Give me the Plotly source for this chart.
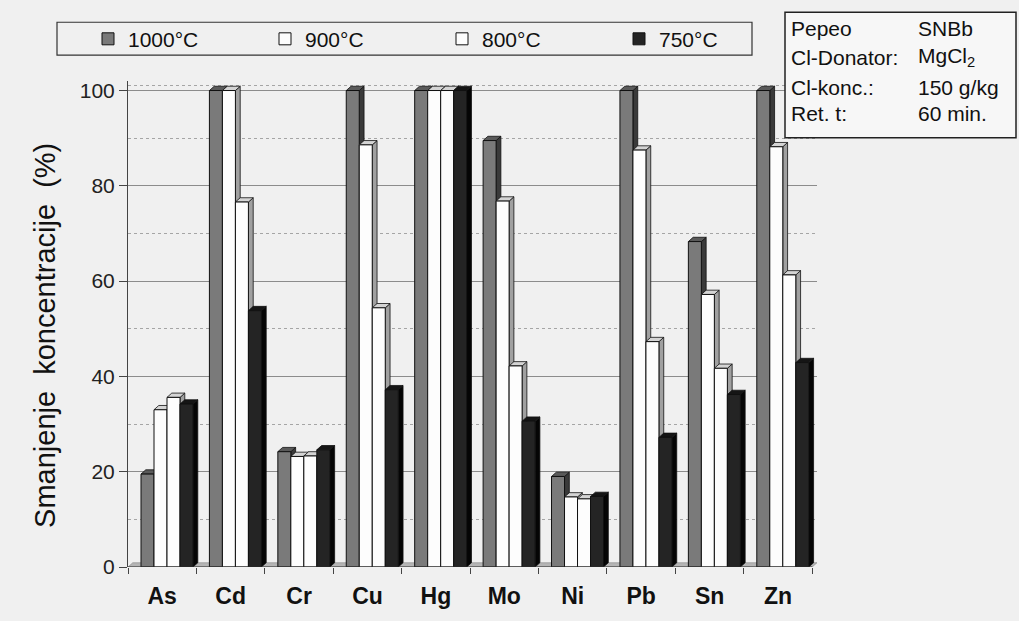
import plotly.graph_objects as go

elements = ["As", "Cd", "Cr", "Cu", "Hg", "Mo", "Ni", "Pb", "Sn", "Zn"]
series_names = ["1000°C", "900°C", "800°C", "750°C"]
v1000 = [19.5, 100, 24.2, 100, 100, 89.5, 19.0, 100, 68.3, 100]
v900 = [33.0, 100, 23.2, 88.6, 100, 76.8, 14.7, 87.5, 57.2, 88.2]
v800 = [35.6, 76.6, 23.3, 54.4, 100, 42.2, 14.3, 47.3, 41.7, 61.3]
v750 = [34.2, 53.8, 24.6, 37.2, 100, 30.6, 14.8, 27.2, 36.2, 42.9]
y_ticks = [0, 20, 40, 60, 80, 100]

series_values = [v1000, v900, v800, v750]
front_colors = ["#7a7a7a", "#fdfdfd", "#fdfdfd", "#242424"]
side_colors = ["#3a3a3a", "#a0a0a0", "#a0a0a0", "#050505"]
top_colors = ["#5a5a5a", "#d4d4d4", "#d4d4d4", "#151515"]

GROUP_W = 0.76
BAR_W = GROUP_W / 4
SHIFT = 0.07  # perspective shift of the bars relative to the category centre
DX = 0.07     # depth offset in x units
DY = 0.9      # depth offset in y units

W, H = 1019, 621
ML, MR, MT, MB = 128, 202, 81, 52
PW = W - ML - MR
PH = H - MT - MB
YMAX = 102


def px_x(p):
    return (p - ML) / PW


def px_y(p):
    return (H - MB - p) / PH


fig = go.Figure()

# floor (behind bars)
fig.add_shape(type="path",
              path=f"M -0.5,0 L 9.5,0 L {9.5 + DX},{DY} L {-0.5 + DX},{DY} Z",
              xref="x", yref="y", fillcolor="#b5b5b5", line=dict(color="#777", width=0.5),
              layer="below")

for i, (name, vals) in enumerate(zip(series_names, series_values)):
    fx, fy, sx, sy, tx, ty = [], [], [], [], [], []
    for c, v in enumerate(vals):
        x0 = c + SHIFT - GROUP_W / 2 + i * BAR_W
        x1 = x0 + BAR_W
        fx += [x0, x1, x1, x0, x0, None]
        fy += [0, 0, v, v, 0, None]
        sx += [x1, x1 + DX, x1 + DX, x1, x1, None]
        sy += [0, DY, v + DY, v, 0, None]
        tx += [x0, x0 + DX, x1 + DX, x1, x0, None]
        ty += [v, v + DY, v + DY, v, v, None]
    # side and top faces drawn first, so the next series' front covers them
    fig.add_trace(go.Scatter(x=sx, y=sy, mode="lines", fill="toself",
                             fillcolor=side_colors[i], line=dict(color="#111", width=0.8),
                             showlegend=False, hoverinfo="skip"))
    fig.add_trace(go.Scatter(x=tx, y=ty, mode="lines", fill="toself",
                             fillcolor=top_colors[i], line=dict(color="#111", width=0.8),
                             showlegend=False, hoverinfo="skip"))
    fig.add_trace(go.Scatter(x=fx, y=fy, mode="lines", fill="toself",
                             fillcolor=front_colors[i], line=dict(color="#111", width=1),
                             showlegend=False, name=name))

# legend entries
for i, name in enumerate(series_names):
    fig.add_trace(go.Bar(x=[None], y=[None], name=name,
                         marker=dict(color=front_colors[i], line=dict(color="#111", width=1))))

# legend box
fig.add_shape(type="rect", xref="paper", yref="paper",
              x0=px_x(57), x1=px_x(752), y0=px_y(55), y1=px_y(22),
              line=dict(color="#333", width=1.2), fillcolor="rgba(0,0,0,0)")

# info box
fig.add_shape(type="rect", xref="paper", yref="paper",
              x0=px_x(785), x1=px_x(1016), y0=px_y(138), y1=px_y(12),
              line=dict(color="#222", width=1.5), fillcolor="#f7f7f7")
info_labels = ["Pepeo", "Cl-Donator:", "Cl-konc.:", "Ret. t:"]
info_values = ["SNBb", "MgCl<sub>2</sub>", "150 g/kg", "60 min."]
info_rows = [28, 57, 88, 114]
for lab, val, yy in zip(info_labels, info_values, info_rows):
    fig.add_annotation(x=px_x(789), y=px_y(yy), xref="paper", yref="paper",
                       text=lab, showarrow=False, xanchor="left", yanchor="middle",
                       font=dict(size=21, color="#111"))
    fig.add_annotation(x=px_x(916), y=px_y(yy), xref="paper", yref="paper",
                       text=val, showarrow=False, xanchor="left", yanchor="middle",
                       font=dict(size=21, color="#111"))

# y axis title
fig.add_annotation(x=px_x(45), y=px_y(337), xref="paper", yref="paper",
                   text="Smanjenje  koncentracije  (%)", textangle=-90, showarrow=False,
                   xanchor="center", yanchor="middle", font=dict(size=29, color="#111"))

font = "Arial, Liberation Sans, sans-serif"
fig.update_layout(
    width=W, height=H,
    margin=dict(l=ML, r=MR, t=MT, b=MB),
    paper_bgcolor="#f0f0f0", plot_bgcolor="#f0f0f0",
    font=dict(family=font, color="#111", size=21),
    showlegend=True,
    legend=dict(orientation="h", x=px_x(88), y=px_y(39), xanchor="left", yanchor="middle",
                bgcolor="rgba(0,0,0,0)", borderwidth=0,
                entrywidth=132, entrywidthmode="pixels",
                font=dict(size=21, color="#111")),
    xaxis=dict(range=[-0.5, 9.5 + DX], tickvals=list(range(len(elements))), ticktext=elements,
               ticks="", showgrid=False, zeroline=False,
               showline=False,
               tickfont=dict(size=23, family=font, color="#111", weight="bold"),
               ticklabelstandoff=13,
               minor=dict(tickvals=[k + 0.5 for k in range(-1, 10)], ticks="outside",
                          ticklen=6, tickcolor="#444", showgrid=False)),
    yaxis=dict(range=[0, YMAX], tickvals=y_ticks, ticks="outside", ticklen=8,
               tickcolor="#444", showline=True, linecolor="#444", linewidth=1,
               showgrid=True, gridcolor="#8c8c8c", gridwidth=1, zeroline=False,
               tickfont=dict(size=21, color="#222"),
               minor=dict(tickvals=[10, 30, 50, 70, 90, 101], showgrid=True,
                          gridcolor="#a5a5a5", griddash="dot", ticks="")),
)

# x axis baseline (front floor edge)
fig.add_shape(type="line", xref="x", yref="y", x0=-0.5, x1=9.5, y0=0, y1=0,
              line=dict(color="#333", width=1.2))

fig.write_html("out.html", config={"displayModeBar": False},
               post_script="document.body.style.margin='0';")
